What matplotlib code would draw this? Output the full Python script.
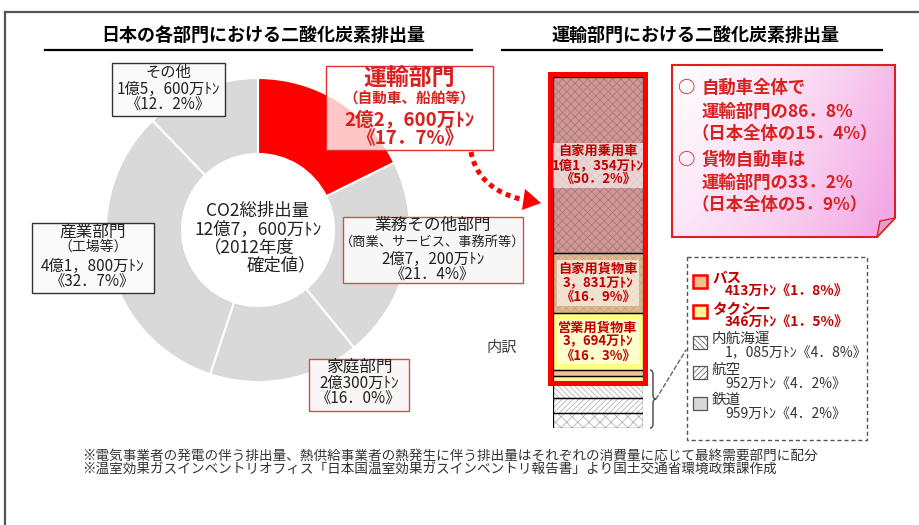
import numpy as np
import matplotlib
matplotlib.use("Agg")
import matplotlib.pyplot as plt
from matplotlib.patches import Rectangle, Polygon, PathPatch, ConnectionPatch
from matplotlib.path import Path
from matplotlib.colors import to_rgb

# 日本の各部門（2012年度確定値）
sectors = ["運輸部門", "業務その他部門", "家庭部門", "産業部門", "その他"]
sector_pct = [17.7, 21.4, 16.0, 32.7, 12.2]
sector_amount = ["2億2，600万ﾄﾝ", "2億7，200万ﾄﾝ", "2億300万ﾄﾝ", "4億1，800万ﾄﾝ", "1億5，600万ﾄﾝ"]
total_amount = "12億7，600万ﾄﾝ"

# 運輸部門の内訳（下から積み上げ）
modes = ["鉄道", "航空", "内航海運", "タクシー", "バス", "営業用貨物車", "自家用貨物車", "自家用乗用車"]
mode_pct = [4.2, 4.2, 4.8, 1.5, 1.8, 16.3, 16.9, 50.2]
mode_amount = ["959万ﾄﾝ", "952万ﾄﾝ", "1，085万ﾄﾝ", "346万ﾄﾝ", "413万ﾄﾝ", "3，694万ﾄﾝ", "3，831万ﾄﾝ", "1億1，354万ﾄﾝ"]

callout = ["自動車全体で", "運輸部門の86．8%", "（日本全体の15．4%）",
           "貨物自動車は", "運輸部門の33．2%", "（日本全体の5．9%）"]

footnotes = ["※電気事業者の発電の伴う排出量、熱供給事業者の熱発生に伴う排出量はそれぞれの消費量に応じて最終需要部門に配分",
             "※温室効果ガスインベントリオフィス「日本国温室効果ガスインベントリ報告書」より国土交通省環境政策課作成"]

# styles
sector_colors = ["#FF0000", "#D9D9D9", "#D9D9D9", "#D9D9D9", "#D9D9D9"]
mode_face = ["white", "white", "white", "#FFF59A", "#F5C08E", "#FFFF88", "#DDB890", "#CD9898"]
mode_hatch = ["xxx", "//////", "\\\\\\\\\\\\", None, None, None, "xxxx", "xxxx"]
mode_hatchc = ["#A8A8A8", "#A8A8A8", "#A8A8A8", "#FFF59A", "#F5C08E", "#FFFF88", "#CDA47A", "#B27070"]

RED = "#D8201E"
DARKRED = "#C00000"


def pct_txt(p):
    return f"《{p:.1f}%》".replace(".", "．")


plt.rcParams["font.family"] = ["Noto Sans CJK JP", "DejaVu Sans"]
plt.rcParams["hatch.linewidth"] = 0.5

W, H = 920, 525
fig = plt.figure(figsize=(9.2, 5.25), dpi=100)


def px_axes(x0, y0, x1, y1, **kw):
    return fig.add_axes([x0 / W, 1 - y1 / H, (x1 - x0) / W, (y1 - y0) / H], **kw)


# ---- donut ----
pax = px_axes(106, 78, 410, 382, zorder=1)
pax.pie(sector_pct, colors=sector_colors, startangle=90, counterclock=False, radius=1,
        wedgeprops=dict(width=0.5, edgecolor="white", linewidth=1.5))
pax.set_xlim(-1.0, 1.0)
pax.set_ylim(-1.0, 1.0)
pax.axis("off")

# ---- stacked bar ----
bax = px_axes(553, 77, 643, 428, zorder=2)
total = sum(mode_pct)
bottoms = np.concatenate([[0], np.cumsum(mode_pct)[:-1]])
for i in range(len(modes)):
    bax.bar(0.5, mode_pct[i], bottom=bottoms[i], width=1, color=mode_face[i],
            edgecolor=mode_hatchc[i], hatch=mode_hatch[i], linewidth=0)
bax.bar(0.5, mode_pct, bottom=bottoms, width=1, facecolor="none", edgecolor="black", linewidth=0.9)
bax.set_xlim(0, 1)
bax.set_ylim(0, total)
bax.axis("off")

for i in [5, 6, 7]:
    bax.text(0.5, bottoms[i] + mode_pct[i] / 2, f"{modes[i]}\n{mode_amount[i]}\n{pct_txt(mode_pct[i])}",
             ha="center", va="center", fontsize=9.5, weight="bold", color=DARKRED, linespacing=1.0,
             bbox=dict(boxstyle="square,pad=0.12", facecolor="white", alpha=0.6, edgecolor="none"))

sx, sy = 1 / 90, total / 351
auto_lo = bottoms[3]
bax.add_patch(Rectangle((-3.5 * sx, auto_lo - 1.5 * sy), 1 + 5.5 * sx, total - auto_lo + 4 * sy,
                        fill=False, edgecolor="#FF0000", linewidth=3.6, clip_on=False, zorder=5))

# brace for the small modes
b_top, b_bot = bottoms[5], 0
b_mid = (b_top + b_bot) / 2
x0, w, r = 1 + 7 * sx, 6 * sx, 4 * sy
verts = [(x0, b_top), (x0 + w / 2, b_top), (x0 + w / 2, b_top - r),
         (x0 + w / 2, b_mid + r), (x0 + w / 2, b_mid), (x0 + w, b_mid),
         (x0 + w / 2, b_mid), (x0 + w / 2, b_mid - r),
         (x0 + w / 2, b_bot + r), (x0 + w / 2, b_bot), (x0, b_bot)]
codes = [Path.MOVETO, Path.CURVE3, Path.CURVE3, Path.LINETO, Path.CURVE3, Path.CURVE3,
         Path.CURVE3, Path.CURVE3, Path.LINETO, Path.CURVE3, Path.CURVE3]
bax.add_patch(PathPatch(Path(verts, codes), fill=False, edgecolor="#444444", linewidth=1, clip_on=False))

# ---- overlay for annotations (pixel coords, y down) ----
ov = fig.add_axes([0, 0, 1, 1], zorder=5)
ov.axis("off")

# frame
ov.plot([5, 920], [12, 12], color="#555555", lw=1.6)
ov.plot([5, 5], [12, 525], color="#555555", lw=1.6)

# titles
ov.text(263, 35, "日本の各部門における二酸化炭素排出量", ha="center", va="center", fontsize=13, weight="bold")
ov.plot([45, 472], [50, 50], color="black", lw=1.6)
ov.text(696, 35, "運輸部門における二酸化炭素排出量", ha="center", va="center", fontsize=13, weight="bold")
ov.plot([502, 882], [50, 50], color="black", lw=1.6)


def box(x0, y0, x1, y1, edge, lines, face="white", alpha=1.0, lw=1.0):
    fc = to_rgb(face) + (alpha,)
    ov.add_patch(Rectangle((x0, y0), x1 - x0, y1 - y0, facecolor=fc, edgecolor=edge, lw=lw, zorder=3))
    cx = (x0 + x1) / 2
    for s, y, size, weight, color in lines:
        ov.text(cx, y, s, ha="center", va="center", fontsize=size, weight=weight, color=color, zorder=4)


# その他
box(112, 63, 225, 116, "#333333",
    [(sectors[4], 72, 11, "normal", "#222"), ("1億5，600万ﾄﾝ", 89, 11, "normal", "#222"),
     (pct_txt(sector_pct[4]), 105, 11, "normal", "#222")], face="#FAFAFA")
# 運輸部門
box(326, 66, 493, 150, "#E03030",
    [(sectors[0], 79, 16.5, "bold", RED), ("（自動車、船舶等）", 99, 10.5, "bold", RED),
     (sector_amount[0], 120, 13.5, "bold", RED), (pct_txt(sector_pct[0]), 139, 13.5, "bold", RED)],
    face="white", alpha=0.78)
# 業務その他部門
box(343, 217, 523, 283, "#D05050",
    [(sectors[1], 225, 12, "normal", "#222"), ("（商業、サービス、事務所等）", 242, 9.5, "normal", "#222"),
     (sector_amount[1], 259, 11, "normal", "#222"), (pct_txt(sector_pct[1]), 275, 11, "normal", "#222")],
    face="#F7F7F7")
# 産業部門
box(32, 223, 154, 293, "#333333",
    [(sectors[3], 232, 12, "normal", "#222"), ("（工場等）", 247, 10, "normal", "#222"),
     (sector_amount[3], 266, 11, "normal", "#222"), (pct_txt(sector_pct[3]), 282, 11, "normal", "#222")],
    face="#FAFAFA")
# 家庭部門
box(309, 359, 409, 411, "#D05050",
    [(sectors[2], 367, 12, "normal", "#222"), (sector_amount[2], 383, 11, "normal", "#222"),
     (pct_txt(sector_pct[2]), 399, 11, "normal", "#222")], face="#FAF6F6")

# donut centre
ov.text(258, 211, "CO2総排出量", ha="center", va="center", fontsize=12.5, color="#222")
ov.text(258, 229, total_amount, ha="center", va="center", fontsize=12.5, color="#222")
ov.text(204, 247, "（2012年度", ha="left", va="center", fontsize=12.5, color="#222")
ov.text(316, 265, "確定値）", ha="right", va="center", fontsize=12.5, color="#222")

# dotted arrow
t = np.linspace(0, 1, 40)
p0, p1, p2 = np.array([471, 152]), np.array([478, 188]), np.array([520, 199])
curve = ((1 - t) ** 2)[:, None] * p0 + (2 * (1 - t) * t)[:, None] * p1 + (t ** 2)[:, None] * p2
ov.plot(curve[:, 0], curve[:, 1], color="#FF0000", lw=3.6, linestyle=(0, (1, 0.9)))
ov.add_patch(Polygon([(525, 189), (541, 203), (522, 210)], closed=True, facecolor="#FF0000", edgecolor="none"))

# callout with gradient
cverts = [(672, 65), (895, 65), (895, 218), (877, 237), (672, 237)]
gx, gy = np.meshgrid(np.linspace(0, 1, 200), np.linspace(0, 1, 100))
g = np.clip(0.75 * gx ** 1.4 + 0.3 * gy, 0, 1)[..., None]
img = np.ones(3) * (1 - g) + np.array(to_rgb("#F3A6E4")) * g
im = ov.imshow(img, extent=(672, 895, 237, 65), aspect="auto", zorder=2)
cpoly = Polygon(cverts, closed=True, facecolor="none", edgecolor="#E02020", lw=1.5, zorder=3)
ov.add_patch(cpoly)
im.set_clip_path(cpoly)
ov.add_patch(Polygon([(877, 237), (895, 218), (880, 221)], closed=True, facecolor="#E9A0CE",
                     edgecolor="#E02020", lw=1, zorder=3))
for s, x, y in [("○", 686, 88), (callout[0], 702, 88), (callout[1], 702, 112), (callout[2], 692, 134),
                ("○", 686, 160), (callout[3], 702, 160), (callout[4], 702, 183), (callout[5], 692, 205)]:
    ov.text(x, y, s, ha="center" if s == "○" else "left", va="center", fontsize=12.5,
            weight="bold", color=RED, zorder=4)

# 内訳
ov.text(502, 347, "内訳", ha="center", va="center", fontsize=11, color="#404040")

# legend of small modes
ov.add_patch(Rectangle((687, 257), 180, 183, fill=False, edgecolor="#555555", lw=1, linestyle=(0, (3, 2))))
for k, i in enumerate([4, 3, 2, 1, 0]):
    yc = 281 + 30.5 * k
    small_red = i in (3, 4)
    ov.add_patch(Rectangle((693, yc - 6.5), 14, 13, facecolor=mode_face[i] if i != 0 else "#D9D9D9",
                           hatch=mode_hatch[i] if i in (1, 2) else None,
                           edgecolor="#FF0000" if small_red else "#555555",
                           lw=1.8 if small_red else 0.9))
    col = DARKRED if small_red else "#333333"
    wt = "bold" if small_red else "normal"
    ov.text(712, yc - 3, modes[i], ha="left", va="center", fontsize=10.5, color=col, weight=wt)
    ov.text(725, yc + 11, f"{mode_amount[i]}{pct_txt(mode_pct[i])}", ha="left", va="center",
            fontsize=10, color=col, weight=wt)

con = ConnectionPatch(xyA=(x0 + w, b_mid), coordsA=bax.transData, xyB=(686, 350), coordsB=ov.transData,
                      linestyle=(0, (3, 2)), color="#666666", lw=1, zorder=6)
fig.add_artist(con)

# footnotes
ov.text(82, 456, footnotes[0], ha="left", va="center", fontsize=9.8, color="#333333")
ov.text(82, 469, footnotes[1], ha="left", va="center", fontsize=9.8, color="#333333")

ov.set_xlim(0, W)
ov.set_ylim(H, 0)

fig.savefig("out.png", dpi=100)
